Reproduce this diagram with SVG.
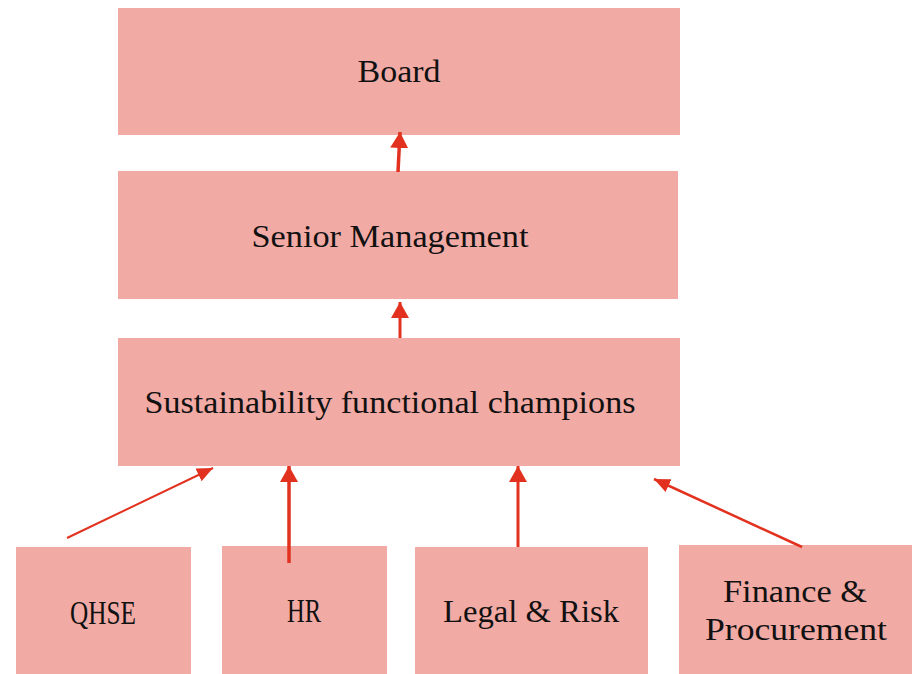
<svg xmlns="http://www.w3.org/2000/svg" width="918" height="674" viewBox="0 0 918 674">
<defs>
<style>
.box{fill:#F2AAA5;}
.t{font-family:"Liberation Serif","DejaVu Serif",serif;fill:#111;text-anchor:middle;font-size:32px;}
.tn{font-family:"Liberation Serif","DejaVu Serif",serif;fill:#111;text-anchor:middle;font-size:34px;}
.c{stroke:#E2321F;fill:none;stroke-width:3;}
</style>
<marker id="ah" viewBox="0 0 16 18" refX="16" refY="9" markerWidth="16" markerHeight="18" markerUnits="userSpaceOnUse" orient="auto">
<path d="M0,0 L16,9 L0,18 z" fill="#E2321F"/>
</marker>
<marker id="ahs" viewBox="0 0 16 14" refX="16" refY="7" markerWidth="16" markerHeight="14" markerUnits="userSpaceOnUse" orient="auto">
<path d="M0,0 L16,7 L0,14 z" fill="#E2321F"/>
</marker>
</defs>
<rect width="918" height="674" fill="#fff"/>
<g id="board"><rect class="box" x="118" y="8" width="562" height="127"/><text class="t" x="399" y="82" textLength="83" lengthAdjust="spacingAndGlyphs">Board</text></g>
<g id="senior"><rect class="box" x="118" y="171" width="560" height="128"/><text class="t" x="390" y="247" textLength="277" lengthAdjust="spacingAndGlyphs">Senior Management</text></g>
<g id="champions"><rect class="box" x="118" y="338" width="562" height="128"/><text class="t" x="390" y="413" textLength="491" lengthAdjust="spacingAndGlyphs">Sustainability functional champions</text></g>
<g id="qhse"><rect class="box" x="16" y="547" width="175" height="127"/><text class="tn" x="103" y="624" textLength="66" lengthAdjust="spacingAndGlyphs">QHSE</text></g>
<g id="hr"><rect class="box" x="222" y="546" width="165" height="128"/><text class="tn" x="304" y="622" textLength="34" lengthAdjust="spacingAndGlyphs">HR</text></g>
<g id="legal"><rect class="box" x="415" y="547" width="233" height="127"/><text class="t" x="531" y="622" textLength="176" lengthAdjust="spacingAndGlyphs">Legal &amp; Risk</text></g>
<g id="finance"><rect class="box" x="679" y="545" width="233" height="129"/><text class="t" x="795" y="602" textLength="144" lengthAdjust="spacingAndGlyphs">Finance &amp;</text><text class="t" x="796" y="640" textLength="182" lengthAdjust="spacingAndGlyphs">Procurement</text></g>
<g id="connectors">
<line class="c" x1="398" y1="172" x2="400" y2="132" marker-end="url(#ah)" style="stroke-width:3.5"/>
<line class="c" x1="400" y1="338" x2="400" y2="302" marker-end="url(#ah)"/>
<line class="c" x1="67" y1="538" x2="213" y2="468" marker-end="url(#ahs)" style="stroke-width:2"/>
<line class="c" x1="289" y1="563" x2="289" y2="466" marker-end="url(#ah)" style="stroke-width:3.5"/>
<line class="c" x1="518" y1="547" x2="518" y2="466" marker-end="url(#ah)"/>
<line class="c" x1="802" y1="547" x2="654" y2="479" marker-end="url(#ahs)" style="stroke-width:2.5"/>
</g>
</svg>
